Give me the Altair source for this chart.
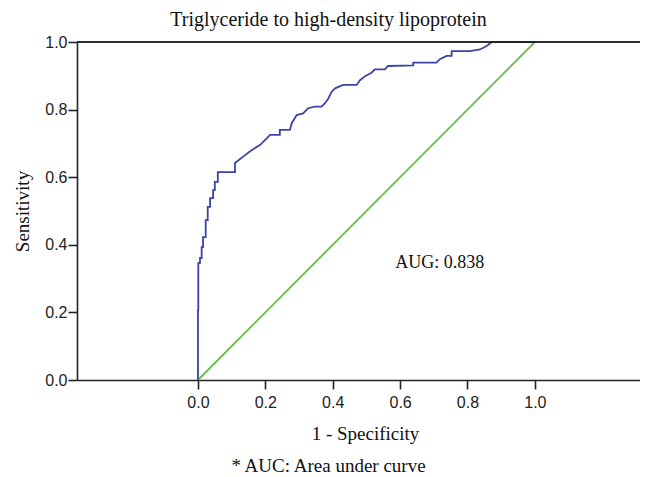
import altair as alt
import pandas as pd

# ROC curve
roc_fpr = [0, 0, 0.001, 0.001, 0.006, 0.006, 0.011, 0.011, 0.015, 0.015, 0.023, 0.023,
           0.029, 0.029, 0.036, 0.036, 0.045, 0.045, 0.050, 0.050, 0.059, 0.059, 0.110,
           0.110, 0.134, 0.159, 0.184, 0.204, 0.214, 0.243, 0.243, 0.273, 0.278, 0.293,
           0.312, 0.327, 0.347, 0.367, 0.377, 0.387, 0.397, 0.407, 0.431, 0.471, 0.481,
           0.496, 0.515, 0.525, 0.555, 0.564, 0.639, 0.639, 0.708, 0.718, 0.738, 0.753,
           0.753, 0.807, 0.837, 0.857, 0.872, 1.0]
roc_tpr = [0, 0.207, 0.207, 0.346, 0.346, 0.361, 0.361, 0.393, 0.393, 0.423, 0.423, 0.473,
           0.473, 0.512, 0.512, 0.538, 0.538, 0.562, 0.562, 0.586, 0.586, 0.615, 0.615,
           0.642, 0.661, 0.680, 0.695, 0.715, 0.725, 0.725, 0.740, 0.740, 0.759, 0.784,
           0.789, 0.804, 0.809, 0.809, 0.819, 0.833, 0.853, 0.863, 0.873, 0.873, 0.887,
           0.899, 0.909, 0.919, 0.919, 0.929, 0.931, 0.939, 0.939, 0.949, 0.959, 0.959,
           0.973, 0.973, 0.978, 0.988, 1.0, 1.0]
ref_fpr = [0.0, 1.0]
ref_tpr = [0.0, 1.0]
tick_values = [0.0, 0.2, 0.4, 0.6, 0.8, 1.0]
auc_label = ["AUG: 0.838"]
auc_pos_x = [0.718]
auc_pos_y = [0.346]

roc_df = pd.DataFrame({"fpr": roc_fpr, "tpr": roc_tpr, "i": list(range(len(roc_fpr)))})
ref_df = pd.DataFrame({"fpr": ref_fpr, "tpr": ref_tpr, "i": [0, 1]})
txt_df = pd.DataFrame({"fpr": auc_pos_x, "tpr": auc_pos_y, "label": auc_label})

SERIF = "Liberation Serif"
SANS = "Liberation Sans"

xscale = alt.Scale(domain=[-0.359, 1.312], nice=False, zero=False)
yscale = alt.Scale(domain=[0, 1], nice=False)

xaxis = alt.Axis(values=tick_values, format=".1f", grid=False, orient="bottom",
                 title="1 - Specificity", titlePadding=14, titleX=288,
                 titleAlign="center")
footer_axis = alt.Axis(orient="bottom", title="* AUC: Area under curve",
                       labels=False, ticks=False, domain=False, grid=False,
                       titleX=251, titleY=91, titleBaseline="alphabetic",
                       titleAlign="center", titleAnchor="start")
yaxis = alt.Axis(values=tick_values, format=".1f", grid=False,
                 title="Sensitivity", titlePadding=12)

roc = alt.Chart(roc_df).mark_line(color="#3b44a6", strokeWidth=1.8).encode(
    x=alt.X("fpr:Q", scale=xscale, axis=xaxis),
    y=alt.Y("tpr:Q", scale=yscale, axis=yaxis),
    order="i:Q",
)

ref = alt.Chart(ref_df).mark_line(color="#66be48", strokeWidth=1.8).encode(
    x=alt.X("fpr:Q", scale=xscale, axis=None),
    y=alt.Y("tpr:Q", scale=yscale),
    order="i:Q",
)

frame = alt.Chart(ref_df).mark_rule(color="#222222", strokeWidth=1.6).encode(
    y=alt.datum(1.0),
)

txt = alt.Chart(txt_df).mark_text(font=SERIF, fontSize=18, color="#111111").encode(
    x=alt.X("fpr:Q", scale=xscale, axis=footer_axis),
    y=alt.Y("tpr:Q", scale=yscale),
    text="label:N",
)

chart = alt.layer(ref, roc, frame, txt).resolve_axis(x="independent").properties(
    width=563,
    height=338,
    autosize=alt.AutoSizeParams(type="none"),
    padding={"left": 69, "top": 34, "right": 0, "bottom": 97},
    title=alt.TitleParams(text="Triglyceride to high-density lipoprotein",
                          font=SERIF, fontSize=20, fontWeight="normal",
                          color="#111111", anchor="middle", dx=-30, offset=4),
).configure_view(stroke=None).configure_axis(
    domainColor="#222222", domainWidth=1.6, tickColor="#222222", tickWidth=1.6,
    tickSize=9, labelFont=SANS, labelFontSize=16, labelColor="#222222",
    titleFont=SERIF, titleFontSize=19, titleFontWeight="normal", titleColor="#111111",
).configure_axisX(labelPadding=5).configure_axisY(labelPadding=1)

chart.save("out.html", embed_options={"renderer": "svg", "actions": False})
